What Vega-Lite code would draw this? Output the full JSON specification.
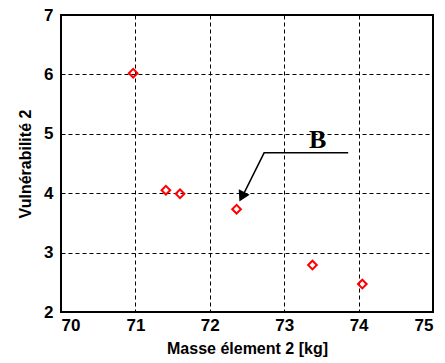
{
  "$schema": "https://vega.github.io/schema/vega-lite/v6.json",
  "width": 372,
  "height": 297,
  "autosize": {"type": "none"},
  "padding": {"left": 61, "top": 15, "right": 12, "bottom": 51},
  "background": "white",
  "config": {
    "view": {"stroke": "black", "strokeWidth": 2},
    "axis": {
      "grid": true,
      "gridColor": "black",
      "gridDash": [4, 3],
      "gridWidth": 1,
      "gridOpacity": 1,
      "domain": false,
      "ticks": false,
      "labelFont": "Liberation Sans",
      "labelFontSize": 17,
      "labelFontWeight": "bold",
      "labelColor": "black",
      "titleFont": "Liberation Sans",
      "titleFontSize": 16,
      "titleFontWeight": "bold",
      "titleColor": "black"
    }
  },
  "datasets": {
    "pts": [
      {"masse": 70.97, "vuln": 6.02},
      {"masse": 71.41, "vuln": 4.05},
      {"masse": 71.60, "vuln": 3.99},
      {"masse": 72.36, "vuln": 3.73},
      {"masse": 73.38, "vuln": 2.79},
      {"masse": 74.05, "vuln": 2.47}
    ],
    "arrow": [
      {"o": 1, "x": 73.86, "y": 4.68},
      {"o": 2, "x": 72.73, "y": 4.68},
      {"o": 3, "x": 72.44, "y": 3.95}
    ],
    "head": [{"x": 72.43, "y": 3.94}],
    "label": [{"x": 73.45, "y": 4.9, "t": "B"}]
  },
  "layer": [
    {
      "data": {"name": "pts"},
      "mark": {"type": "point", "shape": "diamond", "color": "#ff0000", "strokeWidth": 2, "size": 75, "filled": false, "opacity": 1},
      "encoding": {
        "x": {"field": "masse", "type": "quantitative", "scale": {"domain": [70, 75], "nice": false, "zero": false}, "axis": {"values": [70, 71, 72, 73, 74, 75], "format": "d", "title": "Masse élement 2 [kg]", "labelPadding": 5, "titlePadding": 7}},
        "y": {"field": "vuln", "type": "quantitative", "scale": {"domain": [2, 7], "nice": false, "zero": false}, "axis": {"values": [2, 3, 4, 5, 6, 7], "format": "d", "title": "Vulnérabilité 2", "labelPadding": 8, "titlePadding": 10}}
      }
    },
    {
      "data": {"name": "arrow"},
      "mark": {"type": "line", "color": "black", "strokeWidth": 1.5},
      "encoding": {
        "x": {"field": "x", "type": "quantitative"},
        "y": {"field": "y", "type": "quantitative"},
        "order": {"field": "o"}
      }
    },
    {
      "data": {"name": "head"},
      "mark": {"type": "point", "shape": "triangle-up", "filled": true, "color": "black", "size": 150, "angle": 207, "opacity": 1},
      "encoding": {
        "x": {"field": "x", "type": "quantitative"},
        "y": {"field": "y", "type": "quantitative"}
      }
    },
    {
      "data": {"name": "label"},
      "mark": {"type": "text", "font": "Liberation Serif", "fontSize": 26, "fontWeight": "bold", "color": "black", "baseline": "middle", "align": "center"},
      "encoding": {
        "x": {"field": "x", "type": "quantitative"},
        "y": {"field": "y", "type": "quantitative"},
        "text": {"field": "t"}
      }
    }
  ]
}
